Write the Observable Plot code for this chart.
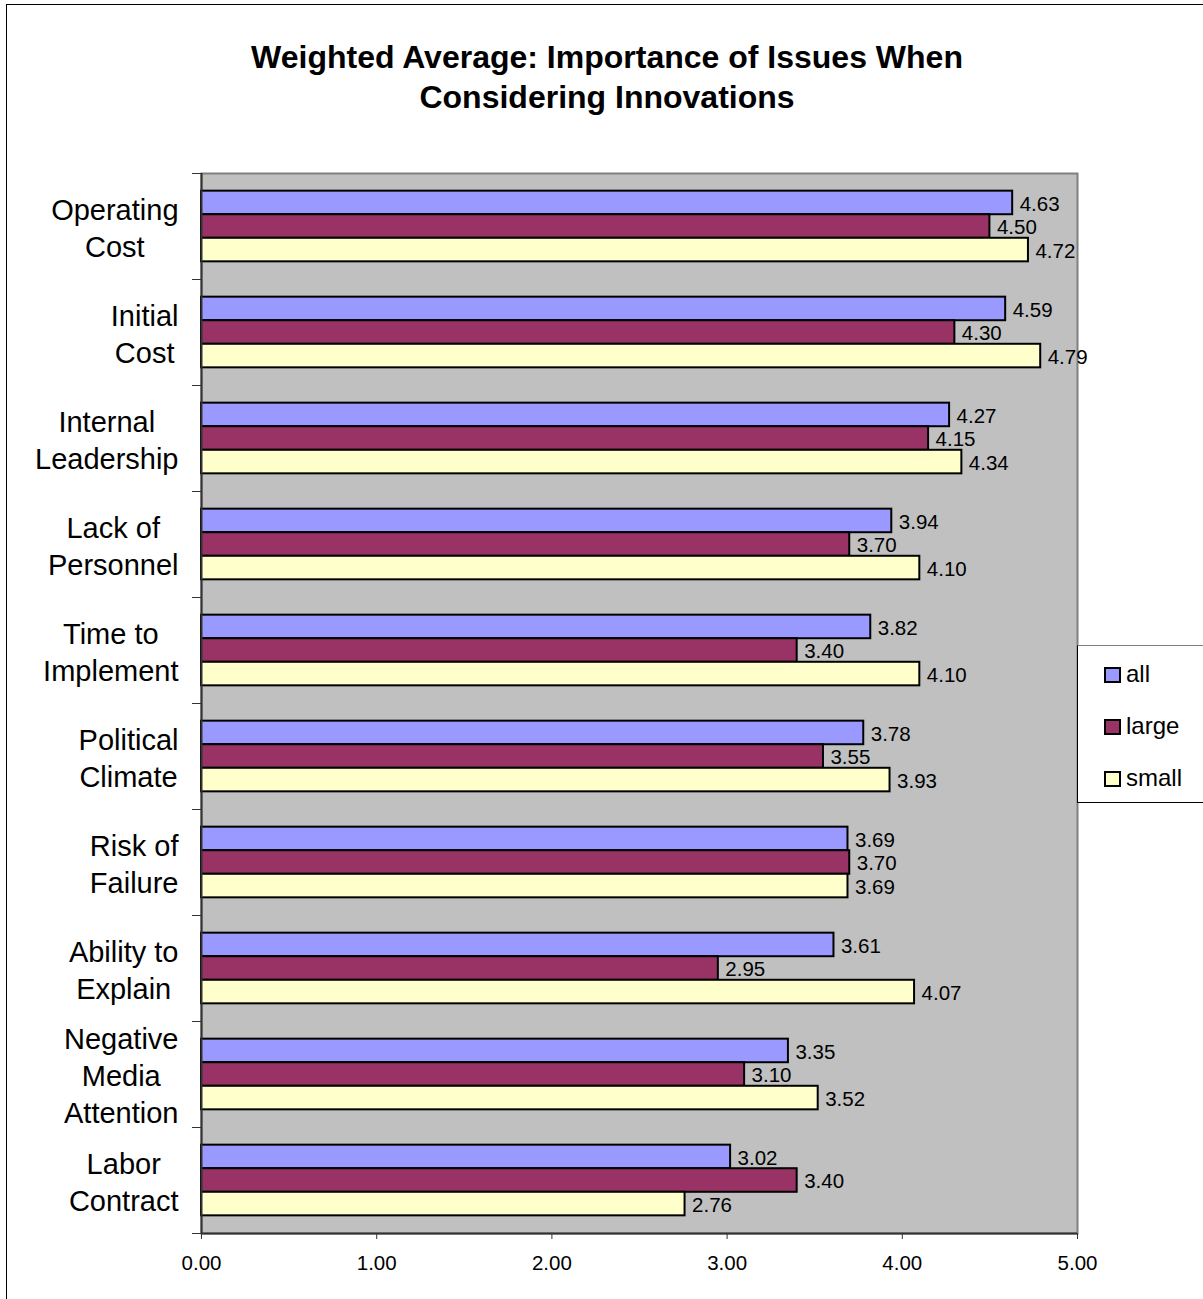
<!DOCTYPE html>
<html>
<head>
<meta charset="utf-8">
<script src="https://cdn.jsdelivr.net/npm/d3@7"></script>
<script src="https://cdn.jsdelivr.net/npm/@observablehq/plot@0.6"></script>
<style>
  html, body { margin: 0; padding: 0; background: white; }
  #fig { position: relative; width: 1203px; height: 1299px; overflow: hidden; font-family: "Liberation Sans", Arial, sans-serif; }
  #border { position: absolute; left: 6px; top: 4px; width: 1210px; height: 1310px; border: 1.5px solid black; box-sizing: border-box; pointer-events: none; }
  #title { position: absolute; left: 7px; width: 1200px; top: 37px; text-align: center; font-weight: bold; font-size: 32px; line-height: 40px; color: black; }
  #legend { position: absolute; left: 1077px; top: 645px; width: 150px; height: 158px; border: 1.5px solid black; border-top-color: #808080; background: white; box-sizing: border-box; }
  .item { position: absolute; left: 26px; height: 26px; font-size: 24px; line-height: 26px; color: black; }
  .sw { position: absolute; left: 0; top: 6px; width: 13px; height: 12px; border: 2px solid black; }
  .lab { position: absolute; left: 22px; top: 0; white-space: nowrap; }
  #chart svg { background: transparent; }
</style>
</head>
<body>
<div id="fig">
  <div id="chart"></div>
  <div id="title">Weighted Average: Importance of Issues When<br>Considering Innovations</div>
  <div id="legend"></div>
  <div id="border"></div>
</div>
<script>
const categories = [
  "Operating\nCost",
  "Initial\nCost",
  "Internal\nLeadership",
  "Lack of\nPersonnel",
  "Time to\nImplement",
  "Political\nClimate",
  "Risk of\nFailure",
  "Ability to\nExplain",
  "Negative\nMedia\nAttention",
  "Labor\nContract"
];
const series = ["all", "large", "small"];
const allValues   = [4.63, 4.59, 4.27, 3.94, 3.82, 3.78, 3.69, 3.61, 3.35, 3.02];
const largeValues = [4.50, 4.30, 4.15, 3.70, 3.40, 3.55, 3.70, 2.95, 3.10, 3.40];
const smallValues = [4.72, 4.79, 4.34, 4.10, 4.10, 3.93, 3.69, 4.07, 3.52, 2.76];
const seriesColors = ["#9999FF", "#993366", "#FFFFCC"];
const xTicks = [0, 1, 2, 3, 4, 5];

const valuesBySeries = [allValues, largeValues, smallValues];
const data = categories.flatMap((c, i) => series.map((s, j) => ({
  category: c, i, series: s, j, value: valuesBySeries[j][i]
})));

// bars fill 2/3 of each category band, 3 bars each 2/9
const barTop = d => d.i + 1/6 + d.j * 2/9;
const barBot = d => barTop(d) + 2/9;

const FONT = "'Liberation Sans', Arial, sans-serif";
const catFontSize = 29;
const ctx = document.createElement("canvas").getContext("2d");
ctx.font = `${catFontSize}px ${FONT}`;
const labelMarks = categories.map((c, i) => {
  const w = d3.max(c.split("\n"), l => ctx.measureText(l).width);
  return Plot.text([c], {
    frameAnchor: "left",
    y: () => i + 0.5,
    text: d => d,
    textAnchor: "middle",
    lineAnchor: "middle",
    lineHeight: 1.27,
    fontSize: catFontSize,
    fill: "black",
    dx: -(23 + w / 2)
  });
});

const chart = Plot.plot({
  width: 1203,
  height: 1299,
  marginTop: 173,
  marginBottom: 66,
  marginLeft: 201,
  marginRight: 126,
  style: { fontFamily: FONT, background: "transparent", overflow: "visible" },
  x: { domain: [0, 5], axis: null },
  y: { domain: [0, 10], reverse: true, axis: null },
  color: { domain: series, range: seriesColors },
  marks: [
    Plot.frame({ fill: "#C0C0C0", stroke: "#808080", strokeWidth: 2 }),
    Plot.rect(data, {
      x1: () => 0, x2: "value", y1: barTop, y2: barBot,
      fill: "series", stroke: "black", strokeWidth: 2
    }),
    Plot.text(data, {
      x: "value", y: d => (barTop(d) + barBot(d)) / 2,
      text: d => d.value.toFixed(2),
      textAnchor: "start", dx: 7, dy: 1, fontSize: 20.5, fill: "black"
    }),
    Plot.ruleX([0], { stroke: "#333", strokeWidth: 2 }),
    Plot.ruleY([10], { stroke: "#333", strokeWidth: 2 }),
    Plot.axisY({ ticks: d3.range(11), tickSize: 9, tickFormat: () => "", label: null, stroke: "#333" }),
    Plot.axisX({ ticks: xTicks, tickSize: 6, tickPadding: 16, tickFormat: d3.format(".2f"), fontSize: 20.5, label: null, stroke: "#333", fill: "black" }),
    ...labelMarks
  ]
});
document.getElementById("chart").appendChild(chart);

const legend = document.getElementById("legend");
series.forEach((s, j) => {
  const item = document.createElement("div");
  item.className = "item";
  item.style.top = (15 + j * 52) + "px";
  item.innerHTML = `<span class="sw" style="background:${seriesColors[j]}"></span><span class="lab">${s}</span>`;
  legend.appendChild(item);
});
</script>
</body>
</html>
